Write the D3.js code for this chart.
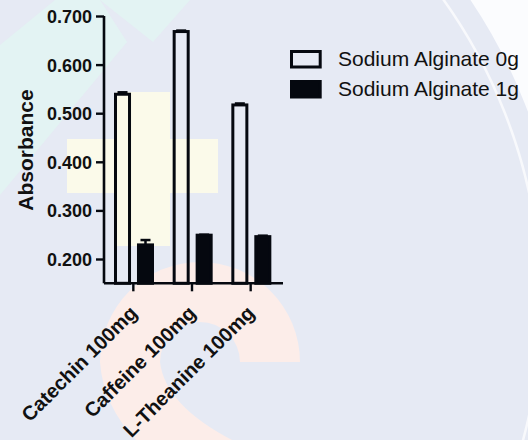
<!DOCTYPE html>
<html>
<head>
<meta charset="utf-8">
<script src="https://cdn.jsdelivr.net/npm/d3@7"></script>
<style>
  html, body { margin: 0; padding: 0; background: #e6eaf4; }
  svg { display: block; }
  text { font-family: "Liberation Sans", Arial, sans-serif; fill: #111; }
</style>
</head>
<body>
<svg id="chart" width="528" height="440"></svg>
<script>
// Absorbance by compound and alginate dose
const categories = ["Catechin 100mg", "Caffeine 100mg", "L-Theanine 100mg"];
const series = ["Sodium Alginate 0g", "Sodium Alginate 1g"];
const alginate0g = [0.539, 0.668, 0.517];
const alginate0gSD = [0.004, 0.002, 0.003];
const alginate1g = [0.229, 0.249, 0.246];
const alginate1gSD = [0.010, 0.001, 0.002];
const yTicks = [0.2, 0.3, 0.4, 0.5, 0.6, 0.7];

const rows = categories.map((c, i) => ({
  category: c,
  values: [
    { key: series[0], value: alginate0g[i], sd: alginate0gSD[i] },
    { key: series[1], value: alginate1g[i], sd: alginate1gSD[i] }
  ]
}));

const svg = d3.select("#chart");
const ink = "#05080f";

// soft decorative backdrop
const bg = svg.append("g");
bg.append("rect").attr("width", 528).attr("height", 440).attr("fill", "#e6eaf4");
bg.append("polygon").attr("points", "0,45 55,0 100,0 127,42 0,195").attr("fill", "#e3f3f3");
bg.append("polygon").attr("points", "100,0 190,0 153,42").attr("fill", "#e3f3f3");
bg.append("rect").attr("x", 116).attr("y", 92).attr("width", 54).attr("height", 154).attr("fill", "#fbfaea");
bg.append("rect").attr("x", 67).attr("y", 139).attr("width", 151).attr("height", 54).attr("fill", "#fbfaea");
// pink hook shape
bg.append("path")
  .attr("d", "M100,362 A100,100 0 0 1 300,362 L240,362 A40,40 0 0 0 160,362 Q165,405 232,440 L136,440 Q103,405 100,362 Z")
  .attr("fill", "#fcede9");
// white sweep at top right
bg.append("circle").attr("cx", 18).attr("cy", 304).attr("r", 745).attr("fill", "none")
  .attr("stroke", "#fbfcfe").attr("stroke-width", 400);
bg.append("circle").attr("cx", 18).attr("cy", 304).attr("r", 523).attr("fill", "none")
  .attr("stroke", "#f8f9fc").attr("stroke-width", 2.5);

// scales
const y = d3.scaleLinear().domain([0.15, 0.7]).range([283.3, 16]);
const x0 = d3.scaleBand().domain(categories).range([104, 280]).paddingInner(0).paddingOuter(0);
const x1 = d3.scaleBand().domain(series).range([11.5, 48.5]).paddingInner(0.39);

// bars
const groups = svg.append("g").selectAll("g").data(rows).join("g")
  .attr("transform", d => `translate(${x0(d.category)},0)`);

groups.selectAll("rect").data(d => d.values).join("rect")
  .attr("x", d => x1(d.key))
  .attr("y", d => y(d.value))
  .attr("width", x1.bandwidth())
  .attr("height", d => y(0.15) - y(d.value))
  .attr("fill", (d, i) => i === 0 ? "none" : ink)
  .attr("stroke", ink)
  .attr("stroke-width", 3);

// upper error bars
groups.selectAll("g.err").data(d => d.values).join("g").attr("class", "err")
  .each(function(d) {
    const cx = x1(d.key) + x1.bandwidth() / 2;
    const g = d3.select(this);
    g.append("line").attr("x1", cx).attr("x2", cx)
      .attr("y1", y(d.value)).attr("y2", y(d.value + d.sd))
      .attr("stroke", ink).attr("stroke-width", 2.5);
    g.append("line").attr("x1", cx - 5).attr("x2", cx + 5)
      .attr("y1", y(d.value + d.sd)).attr("y2", y(d.value + d.sd))
      .attr("stroke", ink).attr("stroke-width", 2.5);
  });

// y axis
const yAxis = svg.append("g").attr("transform", "translate(104,0)")
  .call(d3.axisLeft(y).tickValues(yTicks).tickFormat(d3.format(".3f")).tickSize(8).tickSizeOuter(0));
yAxis.select(".domain").attr("d", `M0,${y(0.7)}V${y(0.15)}`).attr("stroke", ink).attr("stroke-width", 2.6);
yAxis.selectAll(".tick line").attr("stroke", ink).attr("stroke-width", 2.4);
yAxis.selectAll(".tick text").attr("x", -12).attr("dy", "0.36em")
  .style("font-size", "18px").style("font-weight", "bold")
  .style("font-family", "'Liberation Sans', Arial, sans-serif").attr("fill", "#111");

// x axis
const xAxis = svg.append("g").attr("transform", `translate(0,${y(0.15)})`)
  .call(d3.axisBottom(x0).tickSize(8).tickSizeOuter(0));
xAxis.select(".domain").attr("d", "M104,0H283").attr("stroke", ink).attr("stroke-width", 2.6);
xAxis.selectAll(".tick line").attr("stroke", ink).attr("stroke-width", 2.4);
xAxis.selectAll(".tick text")
  .attr("x", 0).attr("y", 0).attr("dy", 0)
  .attr("text-anchor", "end")
  .attr("transform", "translate(5,31) rotate(-45)")
  .style("font-size", "20px").style("font-weight", "bold")
  .style("font-family", "'Liberation Sans', Arial, sans-serif").attr("fill", "#111");

// y axis title
svg.append("text")
  .attr("transform", "translate(33,150) rotate(-90)")
  .attr("text-anchor", "middle")
  .style("font-size", "21px").style("font-weight", "bold")
  .text("Absorbance");

// legend
const legend = svg.append("g").attr("transform", "translate(291.5,51.5)");
series.forEach((s, i) => {
  const row = legend.append("g").attr("transform", `translate(0,${i * 30})`);
  row.append("rect").attr("width", 28.7).attr("height", 15.5)
    .attr("fill", i === 0 ? "none" : ink).attr("stroke", ink).attr("stroke-width", 3);
  row.append("text").attr("x", 46.5).attr("y", 14.5)
    .style("font-size", "21px").text(s);
});
</script>
</body>
</html>
